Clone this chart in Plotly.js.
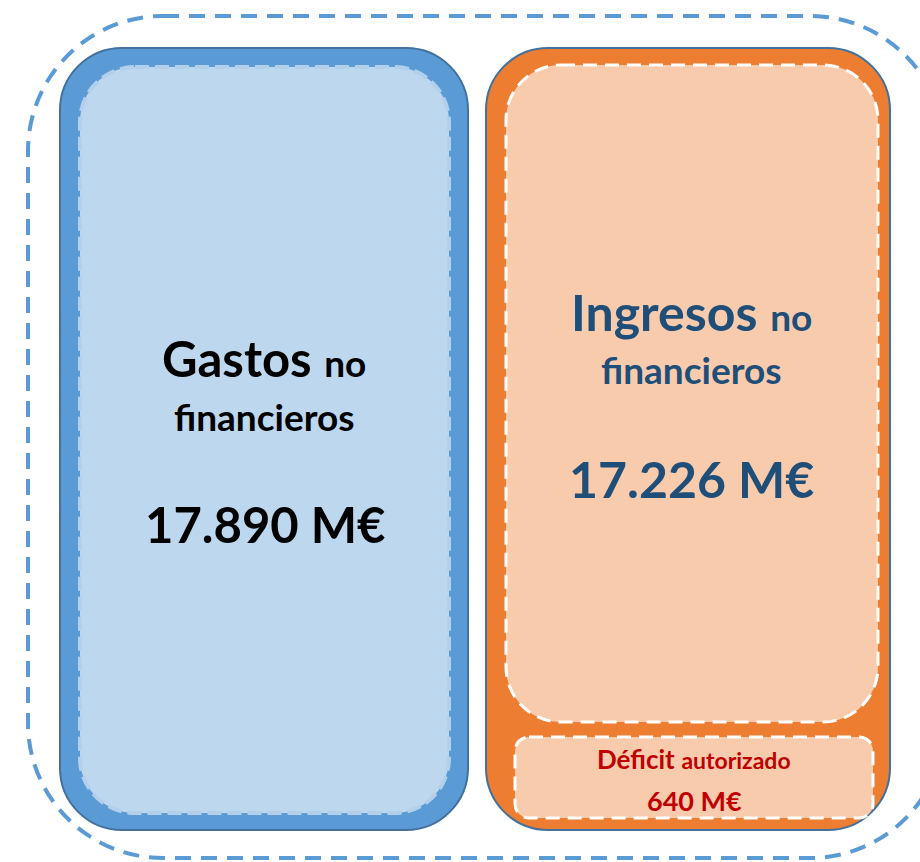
<!DOCTYPE html>
<html>
<head>
<meta charset="utf-8">
<script src="https://cdn.plot.ly/plotly-3.0.1.min.js"></script>
<style>html,body{margin:0;padding:0;background:#fff;}#chart{width:920px;height:862px;}</style>
</head>
<body>
<div id="chart"></div>
<script>
// ---- data ----
const categories = ['Gastos', 'Ingresos', 'Déficit'];
const subLabels = ['no', 'no', 'autorizado'];
const subLabels2 = ['financieros', 'financieros', ''];
const values = [17890, 17226, 640];
const unit = 'M€';

function fmt(v) {
  return String(v).replace(/\B(?=(\d{3})+(?!\d))/g, '.');
}

// ---- geometry helpers ----
function rr(x0, y0, x1, y1, r) {
  const k = 0.5523 * r;
  return 'M' + (x0 + r) + ',' + y0 +
    ' L' + (x1 - r) + ',' + y0 +
    ' C' + (x1 - r + k) + ',' + y0 + ' ' + x1 + ',' + (y0 + r - k) + ' ' + x1 + ',' + (y0 + r) +
    ' L' + x1 + ',' + (y1 - r) +
    ' C' + x1 + ',' + (y1 - r + k) + ' ' + (x1 - r + k) + ',' + y1 + ' ' + (x1 - r) + ',' + y1 +
    ' L' + (x0 + r) + ',' + y1 +
    ' C' + (x0 + r - k) + ',' + y1 + ' ' + x0 + ',' + (y1 - r + k) + ' ' + x0 + ',' + (y1 - r) +
    ' L' + x0 + ',' + (y0 + r) +
    ' C' + x0 + ',' + (y0 + r - k) + ' ' + (x0 + r - k) + ',' + y0 + ' ' + (x0 + r) + ',' + y0 + ' Z';
}
function shp(path, fill, lineColor, width, dash) {
  return {type: 'path', xref: 'x', yref: 'y', path: path, fillcolor: fill,
    line: {color: lineColor, width: width, dash: dash || 'solid'}, layer: 'below'};
}

const shapes = [
  shp(rr(28, 16, 945, 858, 135), 'rgba(0,0,0,0)', '#5b9bd5', 4, '16px,10px'),
  shp(rr(60, 48, 468, 830, 62), '#5b9bd5', '#41719c', 2),
  shp(rr(80, 67, 449, 813, 55), '#bdd7ee', 'rgba(178,208,236,1)', 4, '14px,6px'),
  shp(rr(486, 48, 890, 830, 62), '#ed7d31', '#41719c', 2),
  shp(rr(506, 65, 878, 722, 55), '#f8cbad', '#ffffff', 3, '14px,8px'),
  shp(rr(515, 737, 873, 818, 14), '#f8cbad', '#ffffff', 3, '14px,8px')
];

const F = 'Lato, "Open Sans", sans-serif';
function ann(x, y, text, size, color) {
  return {x: x, y: y, xref: 'x', yref: 'y', text: text, showarrow: false,
    xanchor: 'center', yanchor: 'middle', font: {family: F, size: size, color: color}};
}
function big(t) { return '<b>' + t + '</b>'; }
function small(t, s) { return '<b><span style="font-size:' + s + 'px">' + t + '</span></b>'; }

const colors = ['#000000', '#1f4e79', '#c00000'];
const annotations = [
  ann(264, 358, big(categories[0]) + ' ' + small(subLabels[0], 37), 49, colors[0]),
  ann(264, 416, small(subLabels2[0], 37), 37, colors[0]),
  ann(265, 524, '<b>' + fmt(values[0]) + ' ' + unit + '</b>', 49, colors[0]),
  ann(691, 312, big(categories[1]) + ' ' + small(subLabels[1], 37), 50, colors[1]),
  ann(691, 369, small(subLabels2[1], 37), 37, colors[1]),
  ann(691, 479, '<b>' + fmt(values[1]) + ' ' + unit + '</b>', 50, colors[1]),
  ann(694, 759, '<b>' + categories[2] + '</b> ' + small(subLabels[2], 23), 26, colors[2]),
  ann(694, 800, '<b>' + fmt(values[2]) + ' ' + unit + '</b>', 27, colors[2])
];

const layout = {
  width: 920, height: 862,
  margin: {l: 0, r: 0, t: 0, b: 0, pad: 0},
  paper_bgcolor: '#ffffff', plot_bgcolor: '#ffffff',
  xaxis: {range: [0, 920], visible: false, fixedrange: true},
  yaxis: {range: [862, 0], visible: false, fixedrange: true},
  showlegend: false,
  shapes: shapes,
  annotations: annotations
};

const trace = {x: [0], y: [0], mode: 'markers', marker: {opacity: 0}, hoverinfo: 'skip', showlegend: false};

Plotly.newPlot('chart', [trace], layout, {displayModeBar: false, staticPlot: true});
</script>
</body>
</html>
